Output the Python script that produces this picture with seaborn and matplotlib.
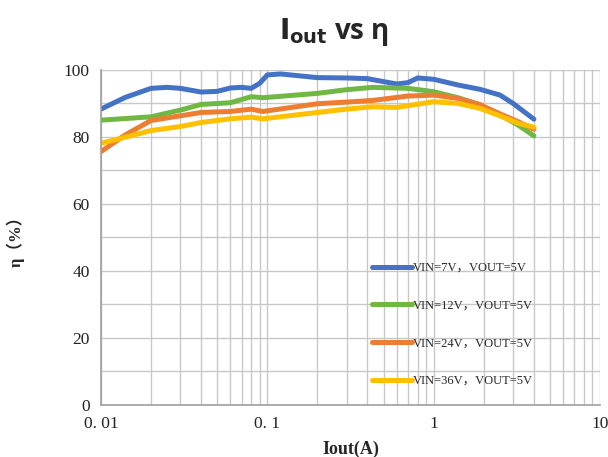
# plot.py
# Efficiency vs output current for four input voltages (log x axis).

import numpy as np
import pandas as pd
import matplotlib
matplotlib.use("Agg")
import matplotlib.pyplot as plt
from matplotlib.ticker import FixedLocator, NullFormatter, MultipleLocator
import seaborn as sns

# --- data ---
iout_7v = [0.01, 0.014, 0.02, 0.025, 0.03, 0.04, 0.05, 0.06, 0.07, 0.08, 0.09, 0.1,
           0.12, 0.2, 0.3, 0.4, 0.5, 0.6, 0.7, 0.8, 1.0, 1.4, 1.9, 2.5, 3.0, 4.0]
eff_7v = [88.3, 91.8, 94.5, 94.8, 94.5, 93.4, 93.6, 94.6, 94.8, 94.5, 96.0, 98.5,
          98.8, 97.7, 97.6, 97.4, 96.5, 95.8, 96.2, 97.6, 97.2, 95.5, 94.2, 92.5, 90.0, 85.3]

iout_12v = [0.01, 0.02, 0.03, 0.04, 0.06, 0.08, 0.094, 0.2, 0.3, 0.43, 0.7, 1.0,
            1.4, 1.9, 2.5, 3.2, 4.0]
eff_12v = [85.0, 86.0, 88.0, 89.7, 90.2, 92.0, 91.7, 93.0, 94.1, 94.8, 94.5, 93.5,
           91.7, 89.6, 86.6, 83.6, 80.3]

iout_24v = [0.01, 0.014, 0.02, 0.03, 0.04, 0.06, 0.08, 0.094, 0.2, 0.3, 0.43, 0.7,
            1.0, 1.4, 1.9, 2.5, 3.2, 4.0]
eff_24v = [75.6, 80.6, 84.9, 86.3, 87.3, 87.6, 88.3, 87.6, 89.9, 90.4, 90.9, 92.2,
           92.5, 91.5, 89.6, 86.9, 84.6, 82.3]

iout_36v = [0.01, 0.014, 0.02, 0.03, 0.04, 0.06, 0.08, 0.094, 0.2, 0.3, 0.43, 0.6,
            1.0, 1.4, 1.9, 2.5, 3.2, 4.0]
eff_36v = [78.1, 79.9, 81.9, 83.1, 84.3, 85.4, 85.9, 85.4, 87.3, 88.3, 89.0, 88.8,
           90.5, 90.0, 88.5, 86.3, 84.1, 82.9]

series_labels = ["VIN=7V，VOUT=5V", "VIN=12V，VOUT=5V",
                 "VIN=24V，VOUT=5V", "VIN=36V，VOUT=5V"]
x_ticks = [0.01, 0.1, 1, 10]
x_tick_labels = ["0. 01", "0. 1", "1", "10"]
y_ticks = [0, 20, 40, 60, 80, 100]

# long-form table for seaborn
frames = []
for lab, xs, ys in zip(series_labels,
                       [iout_7v, iout_12v, iout_24v, iout_36v],
                       [eff_7v, eff_12v, eff_24v, eff_36v]):
    frames.append(pd.DataFrame({"Iout": xs, "eff": ys, "series": lab}))
df = pd.concat(frames, ignore_index=True)

sns.set_theme(style="white")
plt.rcParams["font.family"] = ["Liberation Serif", "Noto Sans CJK SC", "DejaVu Sans"]

colors = ["#4472C4", "#70B844", "#ED7D31", "#FFC000"]
palette = dict(zip(series_labels, colors))

fig = plt.figure(figsize=(6.08, 4.57), dpi=100)
ax = fig.add_axes([0.166, 0.114, 0.821, 0.733])

sns.lineplot(data=df, x="Iout", y="eff", hue="series", palette=palette,
             linewidth=3.6, sort=False, estimator=None, ax=ax, legend=False)
ax.set_xscale("log")
ax.set_xlim(0.01, 10)
ax.set_ylim(0, 100)

# grid: every decade sub-tick, and every 10 on y
minor_x = [m * 10.0 ** e for e in range(-2, 1) for m in range(2, 10)]
ax.xaxis.set_major_locator(FixedLocator(x_ticks))
ax.xaxis.set_minor_locator(FixedLocator(minor_x))
ax.xaxis.set_minor_formatter(NullFormatter())
ax.set_xticklabels(x_tick_labels)
ax.yaxis.set_major_locator(FixedLocator(y_ticks))
ax.yaxis.set_minor_locator(MultipleLocator(10))
ax.grid(which="both", color="#C8C8C8", linewidth=1.0)
ax.set_axisbelow(True)

for side in ["top", "right"]:
    ax.spines[side].set_visible(False)
for side in ["left", "bottom"]:
    ax.spines[side].set_color("#A0A0A0")
    ax.spines[side].set_linewidth(1.2)
ax.tick_params(which="both", length=0, labelsize=12.5, colors="#222222", pad=8)

# legend inside plot
handles = [plt.Line2D([], [], color=c, linewidth=3.6) for c in colors]
ax.legend(handles, series_labels, loc="lower left", bbox_to_anchor=(0.52, 0.02),
          frameon=False, handlelength=3.2, handletextpad=0.1, labelspacing=2.05,
          prop={"size": 9})

ax.set_xlabel("Iout(A)", fontsize=13, fontweight="bold", labelpad=6)
ax.set_ylabel("η（%）", fontsize=12, fontweight="bold", labelpad=28)

fig.text(0.55, 0.93, r"$\mathbf{I_{out}}$ vs η", ha="center", va="center",
         fontsize=20, fontweight="bold", family=["Open Sans", "DejaVu Sans"])

fig.savefig("out.png", dpi=100)
